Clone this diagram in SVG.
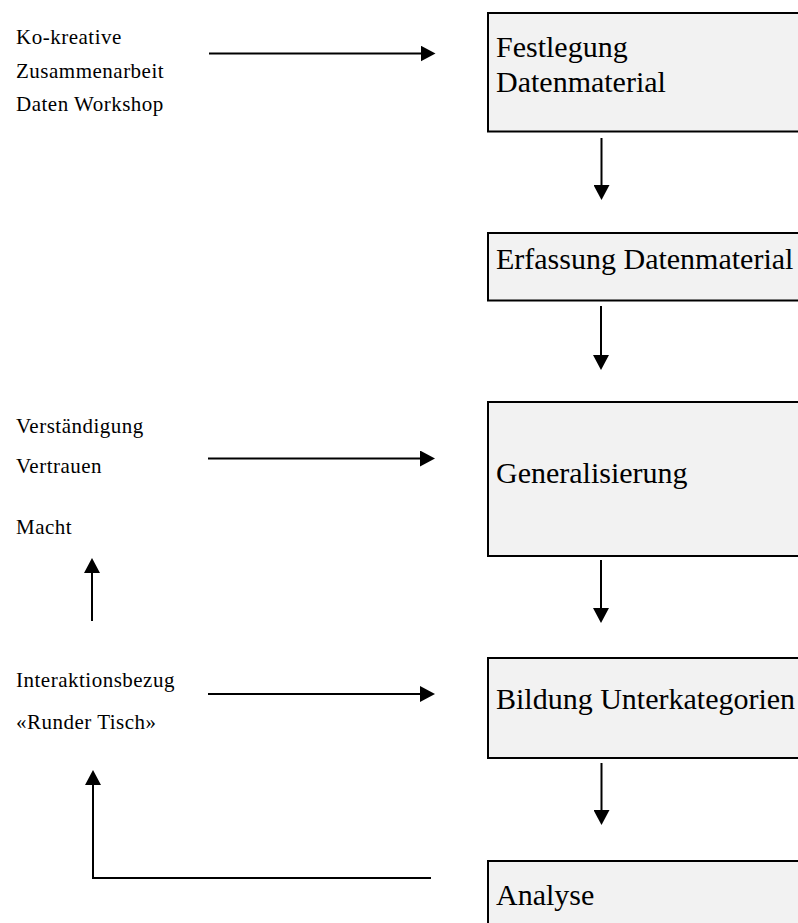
<svg xmlns="http://www.w3.org/2000/svg" width="798" height="923" viewBox="0 0 798 923">
<style>
.box{fill:#f2f2f2;stroke:#000;stroke-width:2}
.bt{font-family:"Liberation Serif","Times New Roman",serif;font-size:30px;fill:#000}
.lt{font-family:"Liberation Serif","Times New Roman",serif;font-size:21px;letter-spacing:0.5px;fill:#000}
.con{fill:none;stroke:#000;stroke-width:2;marker-end:url(#ah)}
</style>
<defs>
<marker id="ah" markerUnits="userSpaceOnUse" viewBox="0 0 15 16" refX="5" refY="8" markerWidth="15" markerHeight="16" orient="auto">
<path d="M0,0 L15,8 L0,16 Z" fill="#000"/>
</marker>
</defs>
<rect width="798" height="923" fill="#fff"/>
<g id="n-festlegung">
<rect class="box" x="488" y="13" width="320" height="118.5"/>
<text class="bt" x="496" y="57">Festlegung</text>
<text class="bt" x="496" y="91.5">Datenmaterial</text>
</g>
<g id="n-erfassung">
<rect class="box" x="488" y="233" width="320" height="67.5"/>
<text class="bt" x="496" y="268.5">Erfassung Datenmaterial</text>
</g>
<g id="n-generalisierung">
<rect class="box" x="488" y="402" width="320" height="154"/>
<text class="bt" x="496" y="483">Generalisierung</text>
</g>
<g id="n-bildung">
<rect class="box" x="488" y="658" width="320" height="100"/>
<text class="bt" x="496" y="709">Bildung Unterkategorien</text>
</g>
<g id="n-analyse">
<rect class="box" x="488" y="861" width="320" height="80"/>
<text class="bt" x="496" y="905">Analyse</text>
</g>
<g id="n-kokreativ">
<text class="lt" x="16" y="43.5">Ko-kreative</text>
<text class="lt" x="16" y="77.5">Zusammenarbeit</text>
<text class="lt" x="16" y="111">Daten Workshop</text>
</g>
<g id="n-verstaendigung">
<text class="lt" x="16" y="433">Verständigung</text>
<text class="lt" x="16" y="472.5">Vertrauen</text>
</g>
<g id="n-macht">
<text class="lt" x="16" y="534">Macht</text>
</g>
<g id="n-interaktion">
<text class="lt" x="16" y="687">Interaktionsbezug</text>
<text class="lt" x="16" y="728.5">«Runder Tisch»</text>
</g>
<g id="connectors">
<line class="con" x1="209" y1="53.5" x2="425.5" y2="53.5"/>
<line class="con" x1="208" y1="458.5" x2="425" y2="458.5"/>
<line class="con" x1="208" y1="694" x2="425" y2="694"/>
<line class="con" x1="92" y1="621" x2="92" y2="568"/>
<polyline class="con" points="431,878 93,878 93,780"/>
<line class="con" x1="601.5" y1="138" x2="601.5" y2="190"/>
<line class="con" x1="601" y1="306" x2="601" y2="360"/>
<line class="con" x1="601" y1="560" x2="601" y2="613"/>
<line class="con" x1="601.5" y1="763" x2="601.5" y2="815"/>
</g>
</svg>
